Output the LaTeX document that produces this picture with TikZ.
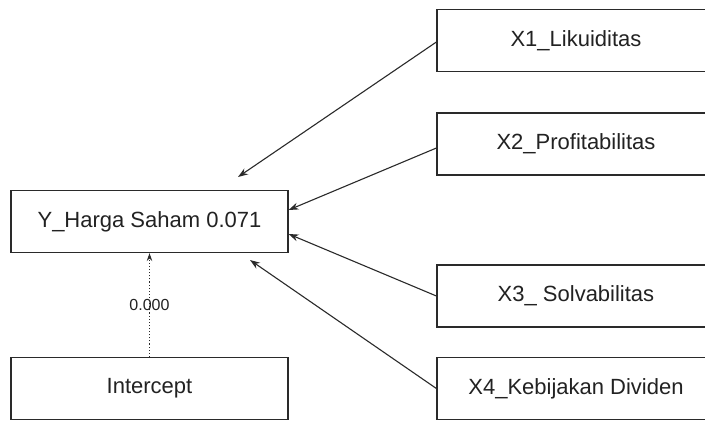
\documentclass[tikz,border=0pt]{standalone}
\usepackage{fontspec}
\setmainfont{Liberation Sans}
\usetikzlibrary{arrows.meta}
\definecolor{linec}{HTML}{2A2A2A}
\definecolor{textc}{HTML}{222222}
\begin{document}
\begin{tikzpicture}[x=1pt,y=-1pt,
  box/.style={draw=linec,line width=1.2pt,rectangle,inner sep=0pt,
    text=textc,font=\fontsize{22}{26}\selectfont},
  lbox/.style={box,minimum width=277pt,minimum height=62pt},
  rbox/.style={box,minimum width=278pt,minimum height=62pt},
  conn/.style={draw=linec,line width=1.1pt,-{Stealth[length=10pt,width=7pt]}},
  dconn/.style={draw=linec,line width=1.1pt,dotted,-{Stealth[length=8pt,width=5.5pt]}},
  lbl/.style={text=textc,font=\fontsize{16}{19}\selectfont,inner sep=0pt}]
\clip (0,0) rectangle (705,421);
\fill[white] (0,0) rectangle (705,421);
\node[lbox] (y) at (149.5,221.5) {Y\_Harga Saham 0.071};
\node[lbox] (ic) at (149.5,388.5) {Intercept};
\node[rbox] (x1) at (576,40.5) {X1\_Likuiditas};
\node[rbox] (x2) at (576,144) {X2\_Profitabilitas};
\node[rbox] (x3) at (576,296) {X3\_ Solvabilitas};
\node[rbox] (x4) at (576,388.5) {X4\_Kebijakan Dividen};
\coordinate (t1) at (238,177);
\coordinate (t4) at (250,260);
\draw[conn] ([yshift=-1.5pt]x1.west) -- (t1);
\draw[conn] ([yshift=-4pt]x2.west) -- ([yshift=11.5pt]y.east);
\draw[conn] (x3.west) -- ([yshift=-12.5pt]y.east);
\draw[conn] (x4.west) -- (t4);
\draw[dconn] (ic.north) -- node[lbl,pos=0.5] {0.000} (y.south);
\end{tikzpicture}
\end{document}
